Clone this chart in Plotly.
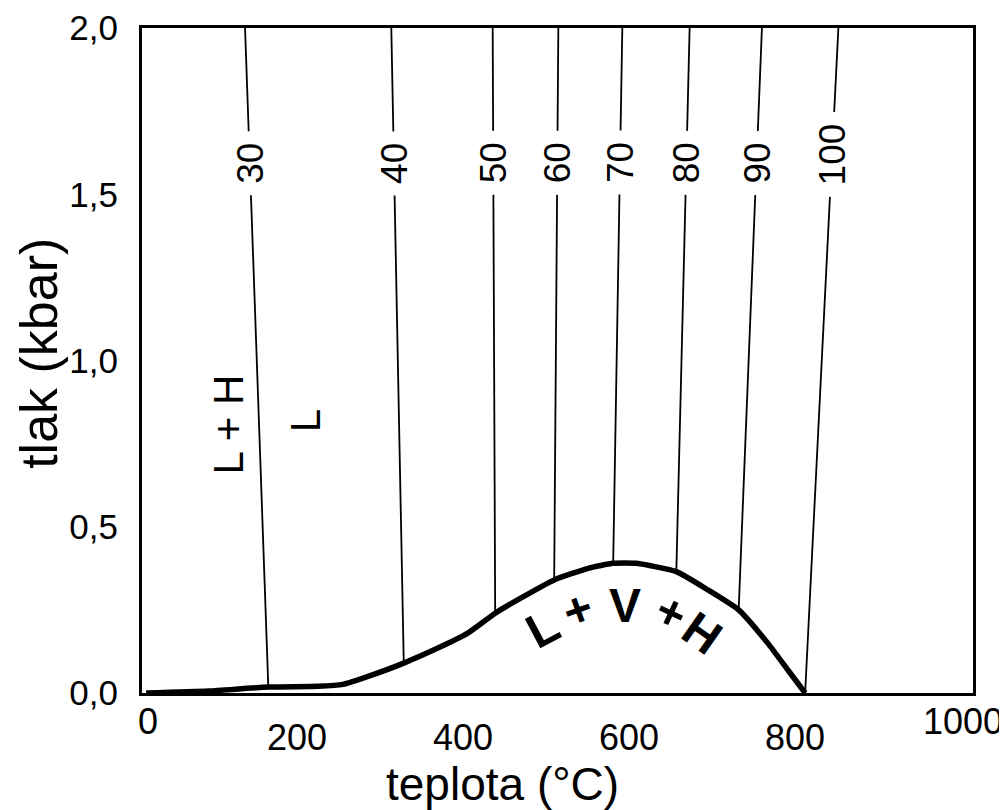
import plotly.graph_objects as go

# ---- data ----
# boundary curve L + V + H (temperature °C, pressure kbar)
curve_T = [5, 80, 152, 212, 242, 272, 315, 356, 392, 425, 452, 496, 537, 567, 595, 643, 681, 718, 753, 777, 798]
curve_P = [0.0, 0.006, 0.018, 0.02, 0.026, 0.05, 0.09, 0.135, 0.18, 0.24, 0.28, 0.34, 0.375, 0.39, 0.39, 0.365, 0.31, 0.25, 0.15, 0.07, 0.0]

# isopleths (wt. %): temperature at 2.0 kbar and point on the curve
iso_labels = ["30", "40", "50", "60", "70", "80", "90", "100"]
iso_T_top = [124, 300, 422, 501, 578, 659, 746, 838]
iso_P_top = [2.0] * 8
iso_T_bot = [152, 315, 425, 496, 567, 643, 718, 798]
iso_P_bot = [0.018, 0.09, 0.24, 0.34, 0.39, 0.365, 0.25, 0.0]
iso_label_P = [1.594, 1.594, 1.594, 1.594, 1.594, 1.594, 1.594, 1.62]

x_tick_vals = [0, 200, 400, 600, 800, 1000]
x_tick_text = ["0", "200", "400", "600", "800", "1000"]
y_tick_vals = [0.0, 0.5, 1.0, 1.5, 2.0]
y_tick_text = ["0,0", "0,5", "1,0", "1,5", "2,0"]

region_text = ["L", "+", "V", "+", "H"]
region_T = [482, 525, 581, 637, 675]
region_P = [0.195, 0.25, 0.264, 0.241, 0.18]
region_angle = [-28, -20, 0, 25, 35]

FONT = "Liberation Sans, Arial, sans-serif"

fig = go.Figure()

for i in range(len(iso_labels)):
    fig.add_trace(go.Scatter(
        x=[iso_T_top[i], iso_T_bot[i]], y=[iso_P_top[i], iso_P_bot[i]],
        mode="lines", line=dict(color="black", width=1.8),
        hoverinfo="skip", showlegend=False))

fig.add_trace(go.Scatter(
    x=curve_T, y=curve_P, mode="lines",
    line=dict(color="black", width=5.5, shape="spline", smoothing=0.5),
    showlegend=False))

annotations = []
# isopleth labels with white background to break the lines
for i, lab in enumerate(iso_labels):
    t0, p0, t1, p1 = iso_T_top[i], iso_P_top[i], iso_T_bot[i], iso_P_bot[i]
    pl = iso_label_P[i]
    tl = t0 + (t1 - t0) * (p0 - pl) / (p0 - p1)
    annotations.append(dict(
        x=tl, y=pl, xref="x", yref="y", text=lab, showarrow=False,
        textangle=-90, font=dict(family=FONT, size=37, color="black"),
        bgcolor="white", borderpad=11))

# region labels
annotations.append(dict(x=103, y=0.806, xref="x", yref="y", text="L + H", showarrow=False,
                        textangle=-90, font=dict(family=FONT, size=42, color="black")))
annotations.append(dict(x=196, y=0.82, xref="x", yref="y", text="L", showarrow=False,
                        textangle=-90, font=dict(family=FONT, size=42, color="black")))
for s, t, p, a in zip(region_text, region_T, region_P, region_angle):
    annotations.append(dict(x=t, y=p, xref="x", yref="y", text="<b>%s</b>" % s, showarrow=False,
                            textangle=a, font=dict(family=FONT, size=48, color="black")))

# x tick labels (staggered as in the original)
for v, s in zip(x_tick_vals, x_tick_text):
    first = v == x_tick_vals[0]
    last = v == x_tick_vals[-1]
    edge = first or last
    dx = 7 if first else (-12 if last else -14)
    annotations.append(dict(
        x=v + dx, y=0, xref="x", yref="y", text=s, showarrow=False,
        yanchor="middle", yshift=-28 if edge else -44,
        font=dict(family=FONT, size=36, color="black")))

# axis titles
annotations.append(dict(x=434, y=0, xref="x", yref="y", text="teplota (°C)",
                        showarrow=False, yanchor="middle", yshift=-91,
                        font=dict(family=FONT, size=46, color="black")))
annotations.append(dict(x=0, y=1.02, xref="paper", yref="y", text="tlak (kbar)",
                        showarrow=False, textangle=-90, xanchor="center", xshift=-103,
                        font=dict(family=FONT, size=52, color="black")))

fig.update_layout(
    width=1007, height=810,
    margin=dict(l=134, r=42, t=20, b=125),
    paper_bgcolor="white", plot_bgcolor="white",
    annotations=annotations,
    xaxis=dict(range=[0, 1000], showgrid=False, zeroline=False, showticklabels=False,
               showline=True, mirror=True, linecolor="black", linewidth=3, ticks="",
               automargin=False),
    yaxis=dict(range=[0, 2.0], showgrid=False, zeroline=False,
               tickvals=y_tick_vals, ticktext=y_tick_text, ticks="",
               tickfont=dict(family=FONT, size=35, color="black"),
               ticklabelstandoff=14, automargin=False,
               showline=True, mirror=True, linecolor="black", linewidth=3),
)

fig.write_html("out.html")
